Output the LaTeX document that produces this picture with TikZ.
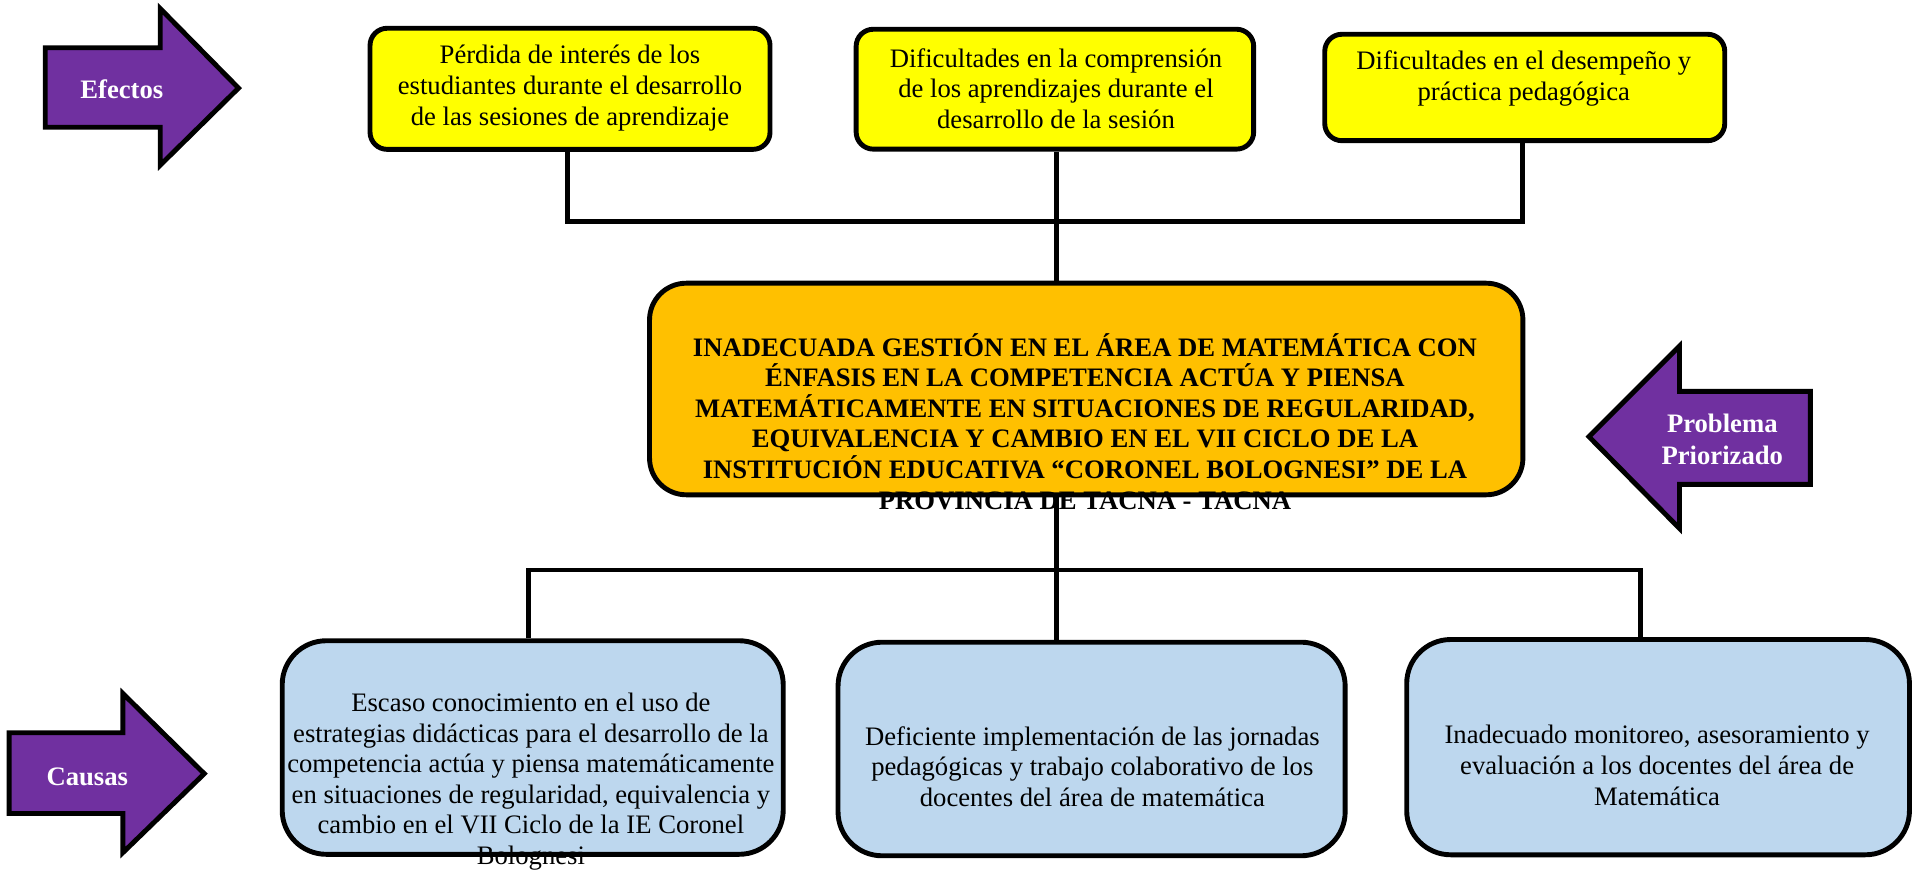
\documentclass[tikz,border=0pt]{standalone}
\usepackage{fontspec}
\setmainfont{Liberation Serif}
\definecolor{purp}{HTML}{7030A0}
\definecolor{yel}{HTML}{FFFF00}
\definecolor{org}{HTML}{FFC000}
\definecolor{blu}{HTML}{BDD7EE}
\begin{document}
\begin{tikzpicture}[x=0.5pt,y=-0.5pt,
  txt/.style={align=center,inner sep=0pt,font=\fontsize{10.9}{12.5}\selectfont},
  boldtxt/.style={txt,font=\fontsize{10.9}{12.5}\selectfont\bfseries},
  basebox/.style={draw=black,line width=2pt,inner sep=0pt},
  effbox/.style={basebox,fill=yel,rounded corners=7pt},
  probbox/.style={basebox,fill=org,rounded corners=15pt},
  causebox/.style={basebox,fill=blu,rounded corners=18pt},
  arrowshape/.style={draw=black,fill=purp,line width=2pt,line join=miter},
  arrowlabel/.style={txt,font=\fontsize{10.9}{12.5}\selectfont\bfseries,text=white},
  conn/.style={draw=black,line width=2pt}]
\useasboundingbox (0,0) rectangle (1568,714);

% coordinates of connector joints
\coordinate (jt) at (864,181);
\coordinate (jt1) at (464,181);
\coordinate (jt3) at (1245,181);
\coordinate (jb) at (864,466);
\coordinate (jb1) at (432,466);
\coordinate (jb3) at (1341,466);

% boxes
\node[effbox,minimum width=163.5pt,minimum height=49.5pt] (e1) at (466,72.6) {};
\node[effbox,minimum width=162.5pt,minimum height=49pt] (e2) at (862.4,72.9) {};
\node[effbox,minimum width=163.5pt,minimum height=43.5pt] (e3) at (1246.5,71.5) {};
\node[probbox,minimum width=357pt,minimum height=86.5pt] (prob) at (888,318) {};
\node[causebox,minimum width=204.8pt,minimum height=87.3pt] (c1) at (435.5,611.1) {};
\node[causebox,minimum width=207.3pt,minimum height=87.3pt] (c2) at (892.4,612.3) {};
\node[causebox,minimum width=205.5pt,minimum height=88pt] (c3) at (1355.5,610.8) {};

% connectors
\draw[conn] (jt1 |- e1.south) -- (jt1) -- (jt3) -- (jt3 |- e3.south);
\draw[conn] (jt |- e2.south) -- (jt |- prob.north);
\draw[conn] (jt |- prob.south) -- (jb |- c2.north);
\draw[conn] (jb1 |- c1.north) -- (jb1) -- (jb3) -- (jb3 |- c3.north);

% box texts
\node[txt] (te1) at (466,72) {Pérdida de interés de los\\estudiantes durante el desarrollo\\de las sesiones de aprendizaje};
\node[txt] (te2) at (863.3,72.2) {Dificultades en la comprensión\\de los aprendizajes durante el\\desarrollo de la sesión};
\node[txt] (te3) at (1245.7,64) {Dificultades en el desempeño y\\práctica pedagógica};
\node[boldtxt] (tprob) at (887,344.5) {INADECUADA GESTIÓN EN EL ÁREA DE MATEMÁTICA CON\\ÉNFASIS EN LA COMPETENCIA ACTÚA Y PIENSA\\MATEMÁTICAMENTE EN SITUACIONES DE REGULARIDAD,\\EQUIVALENCIA Y CAMBIO EN EL VII CICLO DE LA\\INSTITUCIÓN EDUCATIVA “CORONEL BOLOGNESI” DE LA\\PROVINCIA DE TACNA - TACNA};
\node[txt] (tc1) at (434,639) {Escaso conocimiento en el uso de\\estrategias didácticas para el desarrollo de la\\competencia actúa y piensa matemáticamente\\en situaciones de regularidad, equivalencia y\\cambio en el VII Ciclo de la IE Coronel\\Bolognesi};
\node[txt] (tc2) at (893,626.7) {Deficiente implementación de las jornadas\\pedagógicas y trabajo colaborativo de los\\docentes del área de matemática};
\node[txt] (tc3) at (1354.7,625.7) {Inadecuado monitoreo, asesoramiento y\\evaluación a los docentes del área de\\Matemática};

% side arrows
\draw[arrowshape] (37,39) -- (131,39) -- (131,7) -- (195,72) -- (131,135) -- (131,104) -- (37,104) -- cycle;
\node[arrowlabel] (lef) at (99.6,73) {Efectos};
\draw[arrowshape] (7.5,599) -- (100.5,599) -- (100.5,567) -- (167,632.5) -- (100.5,697) -- (100.5,665) -- (7.5,665) -- cycle;
\node[arrowlabel] (lca) at (71.4,635) {Causas};
\draw[arrowshape] (1480,320) -- (1373,320) -- (1373,283) -- (1299,357) -- (1373,432) -- (1373,396) -- (1480,396) -- cycle;
\node[arrowlabel,font=\fontsize{10.9}{13}\selectfont\bfseries] (lpr) at (1408,359) {Problema\\Priorizado};
\end{tikzpicture}
\end{document}
